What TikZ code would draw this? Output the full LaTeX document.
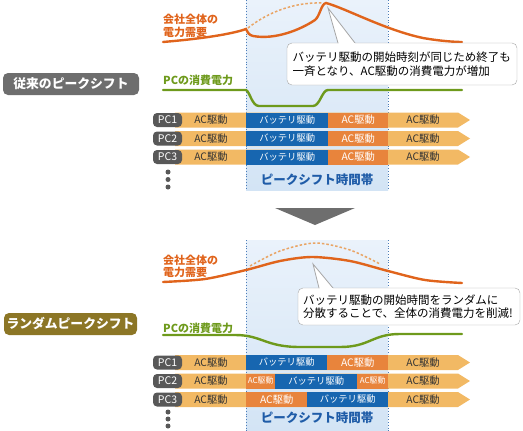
\documentclass[tikz,border=0pt]{standalone}
\usepackage{fontspec}
\setmainfont{Noto Sans CJK JP}
\usepackage{tikz}
\usetikzlibrary{shapes, arrows, arrows.meta, calc, fit}
\definecolor{demand}{HTML}{E0641C}
\definecolor{demanddash}{HTML}{E9A565}
\definecolor{pcgreen}{HTML}{6E9A1C}
\definecolor{aclight}{HTML}{F2B964}
\definecolor{acdark}{HTML}{E8843C}
\definecolor{battblue}{HTML}{1766B0}
\definecolor{shiftblue}{HTML}{1F5CA8}
\definecolor{shadetop}{HTML}{EAF2FB}
\definecolor{shadebot}{HTML}{D3E4F5}
\definecolor{oldgray}{HTML}{6E6E6E}
\definecolor{randgold}{HTML}{8C7626}
\definecolor{pcgray}{HTML}{585858}
\tikzstyle{modelabel} = [rectangle, rounded corners=5pt, text=white,
    minimum height=22, inner sep=0, font=\fontsize{12.8}{13}\selectfont\bfseries]
\tikzstyle{pclabel} = [rectangle, rounded corners=4pt, fill=pcgray, text=white,
    minimum width=29, minimum height=14, inner sep=0, font=\fontsize{10.5}{10}\selectfont]
\tikzstyle{acpart} = [rectangle, fill=acdark, text=white, minimum height=15,
    inner sep=0, anchor=west, font=\fontsize{10.3}{10}\selectfont]
\tikzstyle{battpart} = [rectangle, fill=battblue, text=white, minimum height=15,
    inner sep=0, anchor=west, font=\fontsize{9.3}{10}\selectfont]
\tikzstyle{actext} = [text=black!80, inner sep=0, font=\fontsize{10.3}{10}\selectfont]
\tikzstyle{note} = [rectangle, draw=gray!70, fill=white, rounded corners=5pt,
    align=left, inner sep=0, font=\fontsize{11.5}{13.5}\selectfont]
\tikzstyle{demandtext} = [text=demand, align=left, inner sep=0, anchor=west,
    font=\fontsize{11}{12.5}\selectfont\bfseries]
\tikzstyle{pctext} = [text=pcgreen, inner sep=0, anchor=west,
    font=\fontsize{11}{12}\selectfont\bfseries]
\tikzstyle{shifttext} = [text=shiftblue, inner sep=0, font=\fontsize{12.5}{13}\selectfont\bfseries]
\tikzstyle{demandline} = [draw=demand, line width=2.4pt, line cap=round]
\tikzstyle{dashline} = [draw=demanddash, line width=1.5pt, dash pattern=on 2.5pt off 2pt]
\tikzstyle{pcline} = [draw=pcgreen, line width=2.4pt, line cap=round]
\tikzstyle{border} = [draw=shiftblue!80, line width=0.8pt, dotted]
\tikzstyle{pointer} = [draw=gray!70, fill=white, line width=0.8pt]

\begin{document}
\begin{tikzpicture}[x=1pt, y=-1pt]
    \useasboundingbox (0,0) rectangle (523,431);
    % Peak shift bands
    \shade[top color=shadetop, bottom color=shadebot] (246,0) rectangle (388,190);
    \shade[top color=shadetop, bottom color=shadebot] (246,240) rectangle (388,431);
    \draw[border] (246,0) -- (246,190);
    \draw[border] (388,0) -- (388,190);
    \draw[border] (246,240) -- (246,431);
    \draw[border] (388,240) -- (388,431);

    % Upper half: conventional peak shift
    \node [modelabel, fill=oldgray, minimum width=136] (oldlabel) at (71,84) {従来のピークシフト};
    \node [demandtext] (olddemand) at (163,26) {会社全体の\\電力需要};
    \node [pctext] (oldpc) at (163,80) {PCの消費電力};
    \draw[dashline] (248,28) .. controls (268,12) and (295,2) .. (322,3);
    \draw[demandline] (163,42) .. controls (210,38) and (235,33) .. (246,29)
        .. controls (248,33) and (249,35) .. (253,36)
        .. controls (275,40) and (300,30) .. (315,20)
        .. controls (320,16) and (321,4) .. (326,3)
        .. controls (345,8) and (385,30) .. (423,38)
        .. controls (440,41) and (455,42) .. (462,42);
    \draw[pcline] (163,90) -- (246,90) .. controls (250,92) and (252,106) .. (259,106)
        -- (313,106) .. controls (320,106) and (322,90) .. (328,90) -- (462,90);
    \node [note, minimum width=230, minimum height=42, text width=219] (oldnote) at (402,64)
        {バッテリ駆動の開始時刻が同じため終了も\\一斉となり、AC駆動の消費電力が増加};
    \coordinate (oldpeak) at (328,8);
    \coordinate (oldbasel) at (338,43);
    \coordinate (oldbaser) at (355,43);
    \path [pointer] (oldbasel) -- (oldpeak) -- (oldbaser);
    \fill[white] ($(oldbasel)+(0.5,-0.4)$) -- ($(oldbaser)+(-0.5,-0.4)$) -- ($(oldbaser)+(-0.5,1.5)$) -- ($(oldbasel)+(0.5,1.5)$) -- cycle;

    \foreach \n/\y in {1/120, 2/138.5, 3/157} {
        \fill[aclight] (175,\y-7.5) -- (458,\y-7.5) -- (470,\y) -- (458,\y+7.5) -- (175,\y+7.5) -- cycle;
        \node [pclabel] (oldpc\n) at (167.5,\y) {PC\n};
        \node [actext] (oldac\n) at (211,\y) {AC駆動};
        \node [battpart, minimum width=82] (oldbatt\n) at (246,\y) {バッテリ駆動};
        \node [acpart, minimum width=60] (oldacd\n) at (328,\y) {AC駆動};
        \node [actext] (oldacr\n) at (423,\y) {AC駆動};
    }
    \foreach \y in {172, 179.5, 187}
        \fill[pcgray] (168,\y) circle (2.5);
    \node [shifttext] (oldshift) at (317,180) {ピークシフト時間帯};

    % Arrow
    \fill[oldgray] (275,208) -- (355,208) -- (315,225) -- cycle;

    % Lower half: random peak shift
    \node [modelabel, fill=randgold, minimum width=133] (randlabel) at (70.5,324) {ランダムピークシフト};
    \node [demandtext] (randdemand) at (163,266.5) {会社全体の\\電力需要};
    \node [pctext] (randpc) at (163,328) {PCの消費電力};
    \draw[dashline] plot[smooth] coordinates {(250,266) (280,251) (315,243) (350,250) (380,264)};
    \draw[demandline] plot[smooth] coordinates {(163,282) (205,279) (246,270) (280,261)
        (312,257) (350,261) (388,271) (425,280) (462,283)};
    \draw[pcline] (163,335) -- (235,335) .. controls (262,335) and (265,347) .. (300,347)
        -- (340,347) .. controls (370,347) and (372,334) .. (400,334) -- (462,334);
    \node [note, minimum width=222, minimum height=37, text width=212] (randnote) at (409,306.5)
        {バッテリ駆動の開始時間をランダムに\\分散することで、全体の消費電力を削減!};
    \coordinate (randpeak) at (313,264);
    \coordinate (randbasel) at (319,288);
    \coordinate (randbaser) at (333,288);
    \path [pointer] (randbasel) -- (randpeak) -- (randbaser);
    \fill[white] ($(randbasel)+(0.5,-0.4)$) -- ($(randbaser)+(-0.5,-0.4)$) -- ($(randbaser)+(-0.5,1.5)$) -- ($(randbasel)+(0.5,1.5)$) -- cycle;

    \foreach \n/\y in {1/362.5, 2/381, 3/399.5} {
        \fill[aclight] (175,\y-7.5) -- (458,\y-7.5) -- (470,\y) -- (458,\y+7.5) -- (175,\y+7.5) -- cycle;
        \node [pclabel] (randpc\n) at (167.5,\y) {PC\n};
        \node [actext] (randac\n) at (211,\y) {AC駆動};
        \node [actext] (randacr\n) at (423,\y) {AC駆動};
    }
    \node [battpart, minimum width=81] (randbatt1) at (246,362.5) {バッテリ駆動};
    \node [acpart, minimum width=61] (randacd1) at (327,362.5) {AC駆動};
    \node [acpart, minimum width=29, font=\fontsize{8}{8}\selectfont] (randacd2) at (246,381) {AC駆動};
    \node [battpart, minimum width=82] (randbatt2) at (275,381) {バッテリ駆動};
    \node [acpart, minimum width=31, font=\fontsize{8}{8}\selectfont] (randace2) at (357,381) {AC駆動};
    \node [acpart, minimum width=61] (randacd3) at (246,399.5) {AC駆動};
    \node [battpart, minimum width=81] (randbatt3) at (307,399.5) {バッテリ駆動};
    \foreach \y in {412, 419, 426}
        \fill[pcgray] (168,\y) circle (2.5);
    \node [shifttext] (randshift) at (317,418) {ピークシフト時間帯};
\end{tikzpicture}
\end{document}
